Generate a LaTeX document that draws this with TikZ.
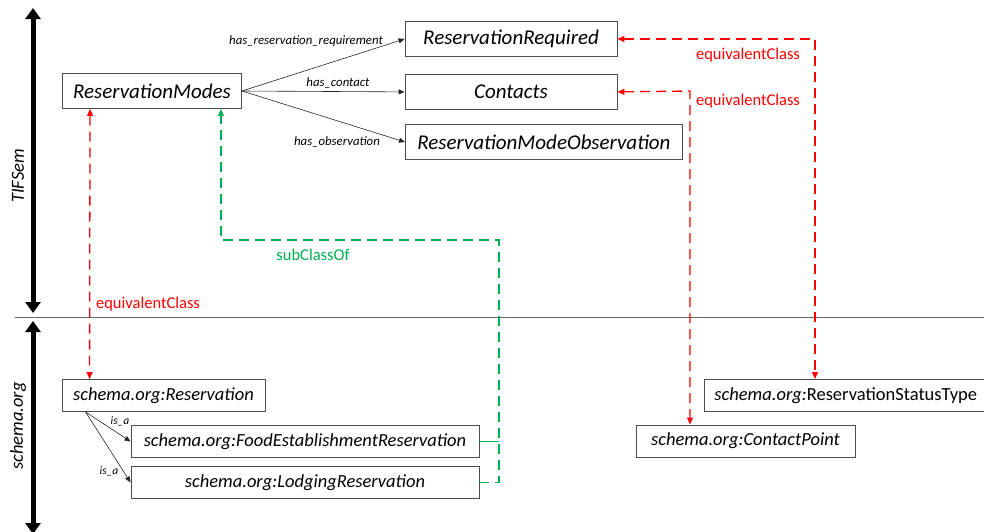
\documentclass[tikz,border=0pt]{standalone}
\usepackage{fontspec}
\setmainfont{Carlito}
\usetikzlibrary{arrows.meta,positioning}
\definecolor{subgreen}{RGB}{0,176,80}

\begin{document}
\begin{tikzpicture}[x=1pt,y=-1pt,
	cls/.style={draw=black!70,line width=0.9pt,inner xsep=10pt,inner ysep=0pt,minimum height=35pt,font=\fontsize{21}{25}\selectfont\itshape},
	sch/.style={cls,minimum height=32pt,font=\fontsize{18.5}{22}\selectfont\itshape},
	rel/.style={-{Triangle[length=6pt,width=5pt]},black!85,line width=0.6pt},
	rlab/.style={font=\fontsize{12.8}{15}\selectfont\itshape,inner sep=1pt},
	eqv/.style={{Triangle[length=7pt,width=6pt]}-{Triangle[length=7pt,width=6pt]},red,line width=1.3pt,dash pattern=on 10pt off 6pt},
	sub/.style={-{Triangle[length=7pt,width=6pt]},subgreen,line width=1.3pt,dash pattern=on 10pt off 6pt},
	elab/.style={font=\fontsize{16.5}{19}\selectfont,inner sep=1pt},
	layer/.style={{Triangle[length=11pt,width=15pt]}-{Triangle[length=11pt,width=15pt]},line width=5pt}
	]
	\useasboundingbox (0,0) rectangle (984,531);
	% left side: the two layers
	\draw[layer] (33,8) -- (33,313);
	\draw[layer] (33,321) -- (33,534);
	\draw[black!60,line width=1pt] (15,317) -- (984,317);
	\node[rotate=90,font=\fontsize{18.5}{21}\selectfont\itshape] (tif) at (18,176) {TIFSem};
	\node[rotate=90,font=\fontsize{18.5}{21}\selectfont\itshape] (sorg) at (18,426) {schema.org};

	% TIFSem classes
	\node[cls,minimum width=179pt] (modes) at (152,91) {ReservationModes};
	\node[cls,minimum width=212pt] (req) at (511,39) {ReservationRequired};
	\node[cls,minimum width=212pt,below=17pt of req] (cont) {Contacts};
	\node[cls,minimum width=277pt,anchor=west] (obs) at (405,142) {ReservationModeObservation};

	\draw[rel] (modes.east) -- (req.west);
	\draw[rel] (modes.east) -- (cont.west);
	\draw[rel] (modes.east) -- (obs.west);
	\node[rlab] at (306,41) {has\_reservation\_requirement};
	\node[rlab] at (338,83) {has\_contact};
	\node[rlab] at (337,142) {has\_observation};

	% schema.org classes
	\node[sch,minimum width=203pt] (res) at (163.5,395.5) {schema.org:Reservation};
	\node[sch,minimum width=348pt] (food) at (305,441.5) {schema.org:FoodEstablishmentReservation};
	\node[sch,minimum width=348pt,below=8pt of food] (lodg) {schema.org:LodgingReservation};
	\node[sch,minimum width=219pt] (cpoint) at (745.5,441) {schema.org:ContactPoint};
	\node[sch,minimum width=282pt,anchor=west] (stat) at (704,395.5) {schema.org:\upshape ReservationStatusType};

	\draw[rel] ([xshift=24pt]res.south west) -- (food.west);
	\draw[rel] ([xshift=24pt]res.south west) -- (lodg.west);
	\node[rlab,font=\fontsize{11.5}{13}\selectfont\itshape] at (120,421) {is\_a};
	\node[rlab,font=\fontsize{11.5}{13}\selectfont\itshape] at (109,471) {is\_a};

	% mappings
	\draw[eqv] ([xshift=28pt]modes.south west) -- ([xshift=28pt]res.north west);
	\node[elab,red] at (148,304) {equivalentClass};

	\coordinate (g1) at (499,240);
	\draw[sub] (lodg.east) -| (g1) -| ([xshift=-21pt]modes.south east);
	\draw[subgreen,line width=1.3pt] (food.east) -- (food.east -| g1);
	\node[elab,subgreen] at (313,255) {subClassOf};

	\coordinate (r1) at (815,39);
	\draw[eqv] (req.east) -- (r1) -- (r1 |- stat.north);
	\node[elab,red] at (748,55) {equivalentClass};

	\coordinate (r2) at (690,91);
	\draw[eqv] (cont.east) -- (r2) -- (r2 |- cpoint.north);
	\node[elab,red] at (748,101) {equivalentClass};
\end{tikzpicture}
\end{document}
